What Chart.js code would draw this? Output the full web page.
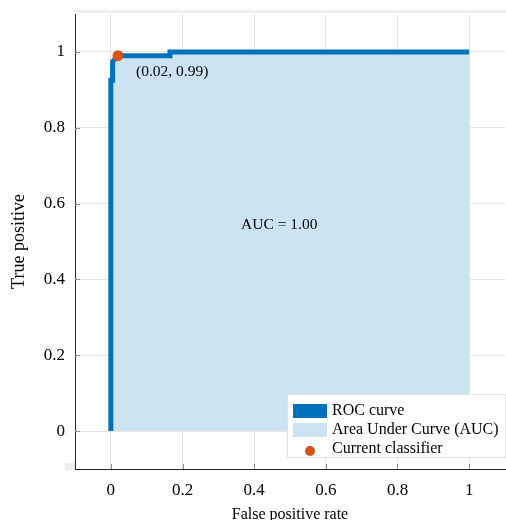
<!DOCTYPE html>
<html>
<head>
<meta charset="utf-8">
<script src="https://cdn.jsdelivr.net/npm/chart.js@4.4.1/dist/chart.umd.min.js"></script>
<style>
    body { margin: 0; background: #fff; }
    #rocChart { display: block; }
</style>
</head>
<body>
<canvas id="rocChart" width="506" height="520"></canvas>
<script>
// ROC curve points
const rocX = [0, 0, 0.005, 0.005, 0.02, 0.165, 0.165, 1];
const rocY = [0, 0.925, 0.925, 0.975, 0.99, 0.99, 1, 1];

// Operating point of the current classifier
const classifierX = [0.02];
const classifierY = [0.99];

const xTicks = [0, 0.2, 0.4, 0.6, 0.8, 1];
const yTicks = [0, 0.2, 0.4, 0.6, 0.8, 1];

const legendLabels = ["ROC curve", "Area Under Curve (AUC)", "Current classifier"];
const pointLabel = "(0.02, 0.99)";
const aucLabel = "AUC = 1.00";
const aucLabelPos = { x: 0.47, y: 0.545 };

const lineColor = "rgb(0,114,189)";
const areaColor = "rgb(204,227,242)";
const dotColor = "rgb(217,83,25)";
const serif = "'Liberation Serif', 'Times New Roman', serif";

const rocPoints = rocX.map((x, i) => ({ x: x, y: rocY[i] }));
const classifierPoints = classifierX.map((x, i) => ({ x: x, y: classifierY[i] }));

// Light frame bits drawn behind the plot
const backdrop = {
    id: "backdrop",
    beforeDraw(chart) {
        const ctx = chart.ctx;
        const area = chart.chartArea;
        ctx.save();
        ctx.fillStyle = "#efefef";
        ctx.fillRect(area.left - 1, area.top - 4, area.right - area.left + 2, 3);
        ctx.fillRect(area.left - 10, area.bottom - 6, 10, 7);
        ctx.restore();
    }
};

// Inward tick marks, text labels and the legend box inside the axes
const overlay = {
    id: "overlay",
    afterDatasetsDraw(chart) {
        const ctx = chart.ctx;
        const xs = chart.scales.x;
        const ys = chart.scales.y;
        const area = chart.chartArea;
        ctx.save();
        ctx.strokeStyle = "#8c8c8c";
        ctx.lineWidth = 1;
        ctx.beginPath();
        yTicks.forEach(v => {
            const py = Math.round(ys.getPixelForValue(v)) + 0.5;
            ctx.moveTo(area.left, py);
            ctx.lineTo(area.left + 5, py);
        });
        xTicks.forEach(v => {
            const px = Math.round(xs.getPixelForValue(v)) + 0.5;
            ctx.moveTo(px, area.bottom);
            ctx.lineTo(px, area.bottom - 5);
        });
        ctx.stroke();
        ctx.restore();
    },
    afterDraw(chart) {
        const ctx = chart.ctx;
        const xs = chart.scales.x;
        const ys = chart.scales.y;
        const area = chart.chartArea;
        ctx.save();
        ctx.fillStyle = "#000";
        ctx.font = "15.5px " + serif;
        ctx.textBaseline = "middle";

        ctx.textAlign = "left";
        ctx.fillText(pointLabel, xs.getPixelForValue(classifierX[0]) + 18, ys.getPixelForValue(classifierY[0]) + 16);

        ctx.textAlign = "center";
        ctx.fillText(aucLabel, xs.getPixelForValue(aucLabelPos.x), ys.getPixelForValue(aucLabelPos.y));

        // legend
        const boxW = 218;
        const boxH = 63;
        const boxLeft = area.right - boxW;
        const boxTop = area.bottom - 75;
        ctx.fillStyle = "#fff";
        ctx.fillRect(boxLeft, boxTop, boxW, boxH);
        ctx.strokeStyle = "#e3e3e3";
        ctx.lineWidth = 1;
        ctx.strokeRect(boxLeft + 0.5, boxTop + 0.5, boxW, boxH);

        const rowY = [boxTop + 17, boxTop + 36, boxTop + 55];
        ctx.fillStyle = lineColor;
        ctx.fillRect(boxLeft + 6, rowY[0] - 7, 34, 14);
        ctx.fillStyle = areaColor;
        ctx.fillRect(boxLeft + 6, rowY[1] - 7, 34, 14);
        ctx.fillStyle = dotColor;
        ctx.beginPath();
        ctx.arc(boxLeft + 23, rowY[2] + 2, 5, 0, Math.PI * 2);
        ctx.fill();

        ctx.fillStyle = "#000";
        ctx.font = "16px " + serif;
        ctx.textAlign = "left";
        legendLabels.forEach((label, i) => {
            ctx.fillText(label, boxLeft + 45, rowY[i]);
        });
        ctx.restore();
    }
};

const ctx = document.getElementById("rocChart").getContext("2d");
new Chart(ctx, {
    type: "line",
    data: {
        datasets: [
            {
                label: legendLabels[2],
                data: classifierPoints,
                showLine: false,
                pointRadius: 5.5,
                pointBackgroundColor: dotColor,
                pointBorderWidth: 0,
                order: 0
            },
            {
                label: legendLabels[0],
                data: rocPoints,
                borderColor: lineColor,
                borderWidth: 5,
                pointRadius: 0,
                tension: 0,
                fill: false,
                order: 1
            },
            {
                label: legendLabels[1],
                data: rocPoints,
                borderWidth: 0,
                pointRadius: 0,
                tension: 0,
                backgroundColor: areaColor,
                fill: "origin",
                order: 2
            }
        ]
    },
    options: {
        responsive: false,
        devicePixelRatio: 1,
        animation: false,
        layout: { autoPadding: false, padding: { top: 14, right: 1, left: 0, bottom: 0 } },
        plugins: {
            legend: { display: false },
            tooltip: { enabled: false }
        },
        scales: {
            x: {
                type: "linear",
                min: -0.1,
                max: 1.1,
                afterBuildTicks: (axis) => { axis.ticks = xTicks.map(v => ({ value: v })); },
                afterFit: (axis) => {
                    axis.height = 51;
                    axis.paddingLeft = 0;
                    axis.paddingRight = 0;
                },
                grid: { color: "#e6e6e6", drawTicks: false },
                border: { display: true, color: "#262626", width: 1 },
                ticks: {
                    padding: 11,
                    color: "#000",
                    font: { family: serif, size: 17 },
                    callback: (v) => String(v)
                },
                title: {
                    display: true,
                    text: "False positive rate",
                    color: "#000",
                    font: { family: serif, size: 16 },
                    padding: { top: 0, bottom: -4 }
                }
            },
            y: {
                min: -0.1,
                max: 1.1,
                afterBuildTicks: (axis) => { axis.ticks = yTicks.map(v => ({ value: v })); },
                afterFit: (axis) => {
                    axis.width = 75;
                    axis.paddingTop = 0;
                    axis.paddingBottom = 0;
                },
                grid: { color: "#e6e6e6", drawTicks: false },
                border: { display: true, color: "#262626", width: 1 },
                ticks: {
                    padding: 10,
                    color: "#000",
                    font: { family: serif, size: 17 },
                    callback: (v) => String(v)
                },
                title: {
                    display: true,
                    text: "True positive",
                    color: "#000",
                    font: { family: serif, size: 18 },
                    padding: { top: 8, bottom: 0 }
                }
            }
        }
    },
    plugins: [backdrop, overlay]
});
</script>
</body>
</html>
